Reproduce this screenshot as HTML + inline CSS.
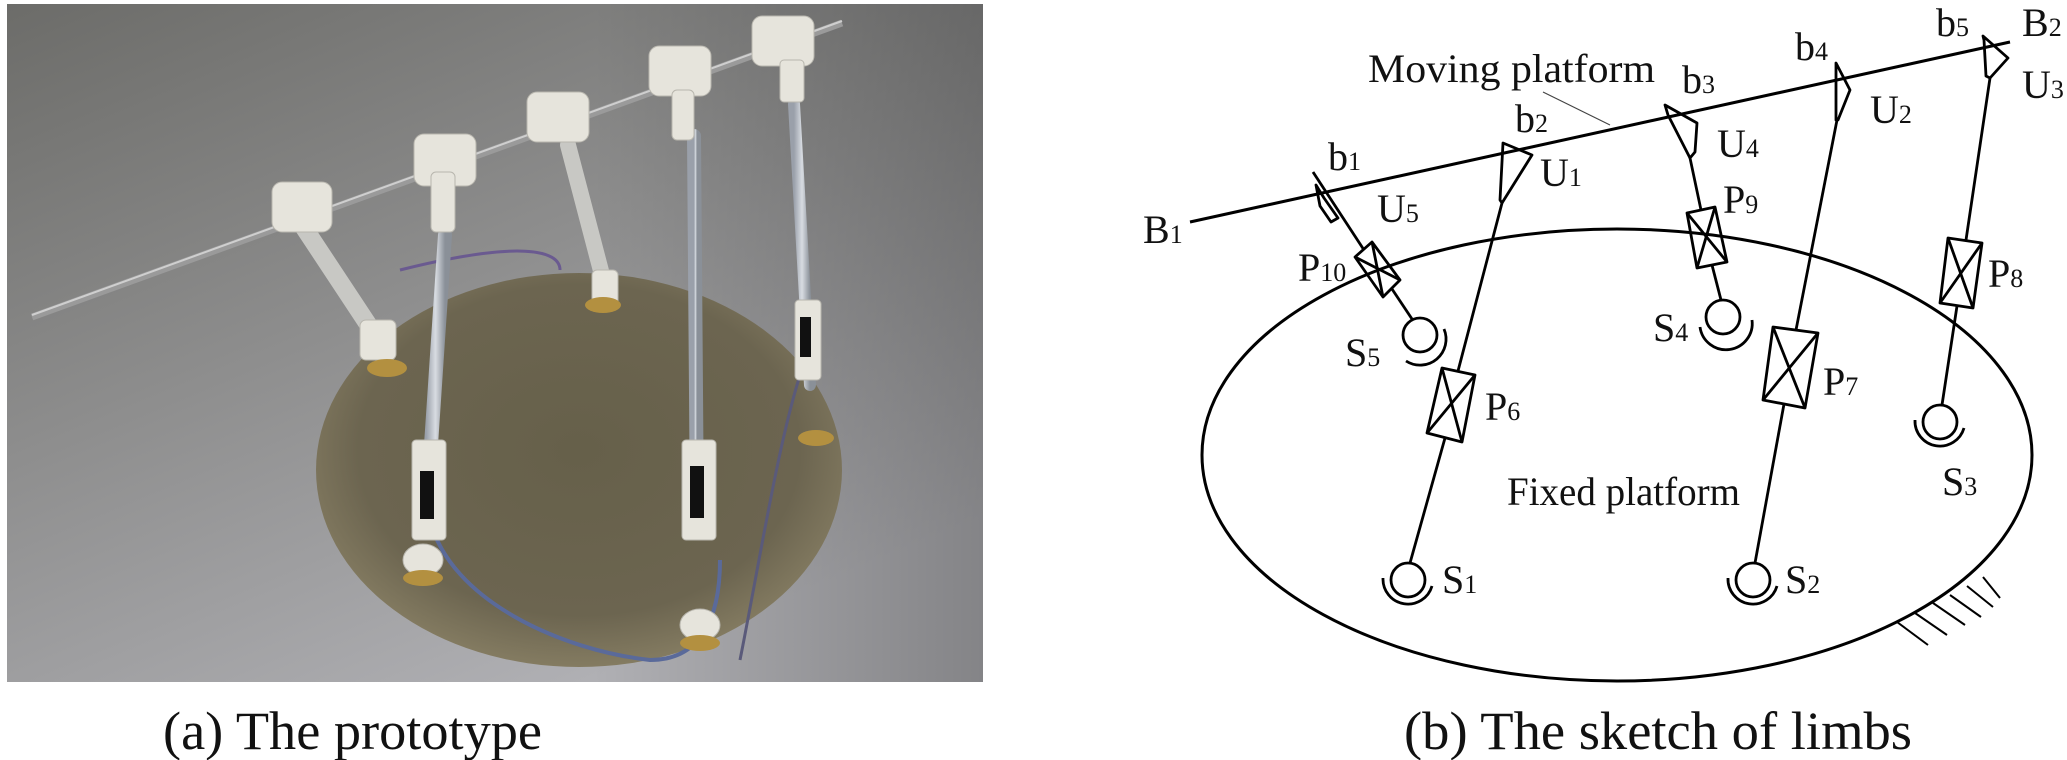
<!DOCTYPE html>
<html><head><meta charset="utf-8"><style>
html,body{margin:0;padding:0;background:#fff;}
svg{display:block;}
text{font-family:"Liberation Serif","DejaVu Serif",serif;fill:#111;}
</style></head><body>
<svg width="2067" height="760" viewBox="0 0 2067 760" xmlns="http://www.w3.org/2000/svg">
<defs>
<linearGradient id="bg" x1="0" y1="0" x2="0.6" y2="1">
<stop offset="0" stop-color="#6c6c69"/><stop offset="0.5" stop-color="#8e8e8e"/><stop offset="1" stop-color="#b0b0b4"/>
</linearGradient>
<linearGradient id="bgr" x1="0" y1="0" x2="1" y2="0">
<stop offset="0.6" stop-color="#000" stop-opacity="0"/><stop offset="1" stop-color="#000" stop-opacity="0.25"/>
</linearGradient>
<radialGradient id="disk" cx="0.5" cy="0.45" r="0.6">
<stop offset="0" stop-color="#66604a"/><stop offset="0.7" stop-color="#6c6550"/><stop offset="1" stop-color="#8d8468"/>
</radialGradient>
<linearGradient id="rod" x1="0" y1="0" x2="1" y2="0">
<stop offset="0" stop-color="#9aa0aa"/><stop offset="0.5" stop-color="#d8dce2"/><stop offset="1" stop-color="#8a9098"/>
</linearGradient>
</defs>
<rect x="7" y="4" width="976" height="678" fill="url(#bg)"/>
<rect x="7" y="4" width="976" height="678" fill="url(#bgr)"/>
<ellipse cx="579" cy="470" rx="263" ry="197" fill="url(#disk)"/>
<line x1="32" y1="317" x2="842" y2="23" stroke="#9a9a9a" stroke-width="7"/>
<line x1="32" y1="315" x2="842" y2="21" stroke="#cfcfcf" stroke-width="2"/>
<path d="M400,270 C520,240 560,250 560,270" fill="none" stroke="#6a5a90" stroke-width="3"/>
<path d="M430,520 C450,600 560,650 650,660 C700,660 720,620 720,560" fill="none" stroke="#5a6a9a" stroke-width="4"/>
<path d="M805,360 C780,430 760,560 740,660" fill="none" stroke="#5a5a7a" stroke-width="3"/>
<g stroke-linecap="round">
<line x1="303" y1="226" x2="381" y2="344" stroke="#c8c8c4" stroke-width="18"/>
<line x1="445" y1="235" x2="426" y2="520" stroke="url(#rod)" stroke-width="14"/>
<line x1="568" y1="145" x2="606" y2="290" stroke="#c8c8c4" stroke-width="16"/>
<line x1="694" y1="136" x2="697" y2="520" stroke="url(#rod)" stroke-width="14"/>
<line x1="794" y1="104" x2="810" y2="385" stroke="url(#rod)" stroke-width="12"/>
</g>
<g fill="#e6e4dc" stroke="#b8b6ae" stroke-width="1">
<rect x="272" y="182" width="60" height="50" rx="10"/>
<rect x="414" y="134" width="62" height="52" rx="10"/>
<rect x="527" y="92" width="62" height="50" rx="10"/>
<rect x="649" y="46" width="62" height="50" rx="10"/>
<rect x="752" y="16" width="62" height="50" rx="10"/>
<rect x="431" y="172" width="24" height="60" rx="5"/>
<rect x="672" y="90" width="22" height="50" rx="5"/>
<rect x="780" y="60" width="24" height="42" rx="4"/>
<rect x="412" y="440" width="34" height="100" rx="4"/>
<rect x="682" y="440" width="34" height="100" rx="4"/>
<rect x="795" y="300" width="26" height="80" rx="4"/>
<rect x="360" y="320" width="36" height="40" rx="6"/>
<rect x="592" y="270" width="26" height="36" rx="5"/>
<ellipse cx="423" cy="560" rx="20" ry="16"/>
<ellipse cx="700" cy="625" rx="20" ry="16"/>
</g>
<g fill="#111">
<rect x="420" y="471" width="14" height="48"/>
<rect x="690" y="466" width="14" height="52"/>
<rect x="800" y="317" width="11" height="40"/>
</g>
<g fill="#b39040">
<ellipse cx="387" cy="368" rx="20" ry="9"/>
<ellipse cx="603" cy="305" rx="18" ry="8"/>
<ellipse cx="816" cy="438" rx="18" ry="8"/>
<ellipse cx="423" cy="578" rx="20" ry="8"/>
<ellipse cx="700" cy="643" rx="20" ry="8"/>
</g>

<g fill="none" stroke="#000" stroke-width="3">
<ellipse cx="1617" cy="455" rx="415" ry="226"/>
<line x1="1190" y1="222" x2="2010" y2="42"/>
</g>
<line x1="1543" y1="92" x2="1610" y2="125" stroke="#444" stroke-width="1.2"/>
<g fill="none" stroke="#000" stroke-width="2.8" stroke-linejoin="round">
<line x1="1313" y1="172" x2="1364" y2="250"/>
<polygon points="1316,185 1324,198 1338,218 1331,222 1320,206"/>
<polygon points="1355,257 1372,242 1400,280 1383,297"/>
<line x1="1355" y1="257" x2="1400" y2="280"/><line x1="1372" y1="242" x2="1383" y2="297"/>
<line x1="1392" y1="289" x2="1412" y2="319"/>
<circle cx="1420" cy="335" r="17"/>
<path d="M1406,361 A26,26 0 0 0 1444,329"/>
<polygon points="1503,143 1532,155 1502,203 1500,200"/>
<line x1="1502" y1="203" x2="1458" y2="371"/>
<polygon points="1442,368 1475,375 1462,442 1427,433"/>
<line x1="1442" y1="368" x2="1462" y2="442"/><line x1="1475" y1="375" x2="1427" y2="433"/>
<line x1="1445" y1="438" x2="1410" y2="563"/>
<circle cx="1408" cy="580" r="17"/>
<path d="M1383,578 A25,25 0 0 0 1432,586"/>
<polygon points="1665,105 1697,123 1695,152 1690,158 1668,115"/>
<line x1="1690" y1="158" x2="1701" y2="210"/>
<polygon points="1687,213 1715,207 1727,262 1697,268"/>
<line x1="1687" y1="213" x2="1727" y2="262"/><line x1="1715" y1="207" x2="1697" y2="268"/>
<line x1="1712" y1="265" x2="1721" y2="300"/>
<circle cx="1723" cy="317" r="17"/>
<path d="M1700,327 A25,25 0 0 0 1752,320"/>
<polygon points="1836,63 1850,90 1838,120 1836,120"/>
<line x1="1837" y1="120" x2="1796" y2="330"/>
<polygon points="1773,327 1818,333 1805,408 1763,400"/>
<line x1="1773" y1="327" x2="1805" y2="408"/><line x1="1818" y1="333" x2="1763" y2="400"/>
<line x1="1784" y1="404" x2="1755" y2="563"/>
<circle cx="1753" cy="580" r="17"/>
<path d="M1728,578 A25,25 0 0 0 1777,586"/>
<polygon points="1983,36 2008,58 1990,78 1986,76 1984,40"/>
<line x1="1990" y1="78" x2="1966" y2="240"/>
<polygon points="1948,238 1982,243 1973,308 1940,303"/>
<line x1="1948" y1="238" x2="1973" y2="308"/><line x1="1982" y1="243" x2="1940" y2="303"/>
<line x1="1957" y1="306" x2="1942" y2="405"/>
<circle cx="1940" cy="422" r="17"/>
<path d="M1915,420 A25,25 0 0 0 1964,428"/>
</g>
<g stroke="#000" stroke-width="2">
<line x1="1897" y1="622" x2="1928" y2="645"/>
<line x1="1915" y1="613" x2="1947" y2="635"/>
<line x1="1933" y1="603" x2="1965" y2="625"/>
<line x1="1950" y1="595" x2="1981" y2="617"/>
<line x1="1967" y1="586" x2="1993" y2="607"/>
<line x1="1983" y1="577" x2="2000" y2="598"/>
</g>
<g font-size="40">
<text x="1368" y="82" textLength="287" lengthAdjust="spacingAndGlyphs">Moving platform</text>
<text x="1507" y="505" textLength="233" lengthAdjust="spacingAndGlyphs">Fixed platform</text>
<text x="1143" y="243">B<tspan font-size="26">1</tspan></text>
<text x="2022" y="36">B<tspan font-size="26">2</tspan></text>
<text x="1328" y="170">b<tspan font-size="26">1</tspan></text>
<text x="1515" y="132">b<tspan font-size="26">2</tspan></text>
<text x="1682" y="93">b<tspan font-size="26">3</tspan></text>
<text x="1795" y="60">b<tspan font-size="26">4</tspan></text>
<text x="1936" y="36">b<tspan font-size="26">5</tspan></text>
<text x="1540" y="186">U<tspan font-size="26">1</tspan></text>
<text x="1870" y="123">U<tspan font-size="26">2</tspan></text>
<text x="2022" y="98">U<tspan font-size="26">3</tspan></text>
<text x="1717" y="157">U<tspan font-size="26">4</tspan></text>
<text x="1377" y="222">U<tspan font-size="26">5</tspan></text>
<text x="1485" y="420">P<tspan font-size="26">6</tspan></text>
<text x="1823" y="395">P<tspan font-size="26">7</tspan></text>
<text x="1988" y="287">P<tspan font-size="26">8</tspan></text>
<text x="1723" y="213">P<tspan font-size="26">9</tspan></text>
<text x="1298" y="281">P<tspan font-size="26">10</tspan></text>
<text x="1442" y="593">S<tspan font-size="26">1</tspan></text>
<text x="1785" y="593">S<tspan font-size="26">2</tspan></text>
<text x="1942" y="495">S<tspan font-size="26">3</tspan></text>
<text x="1653" y="341">S<tspan font-size="26">4</tspan></text>
<text x="1345" y="366">S<tspan font-size="26">5</tspan></text>
</g>
<text x="163" y="749" font-size="54" textLength="379" lengthAdjust="spacingAndGlyphs">(a) The prototype</text>
<text x="1404" y="749" font-size="54" textLength="508" lengthAdjust="spacingAndGlyphs">(b) The sketch of limbs</text>
</svg>
</body></html>
